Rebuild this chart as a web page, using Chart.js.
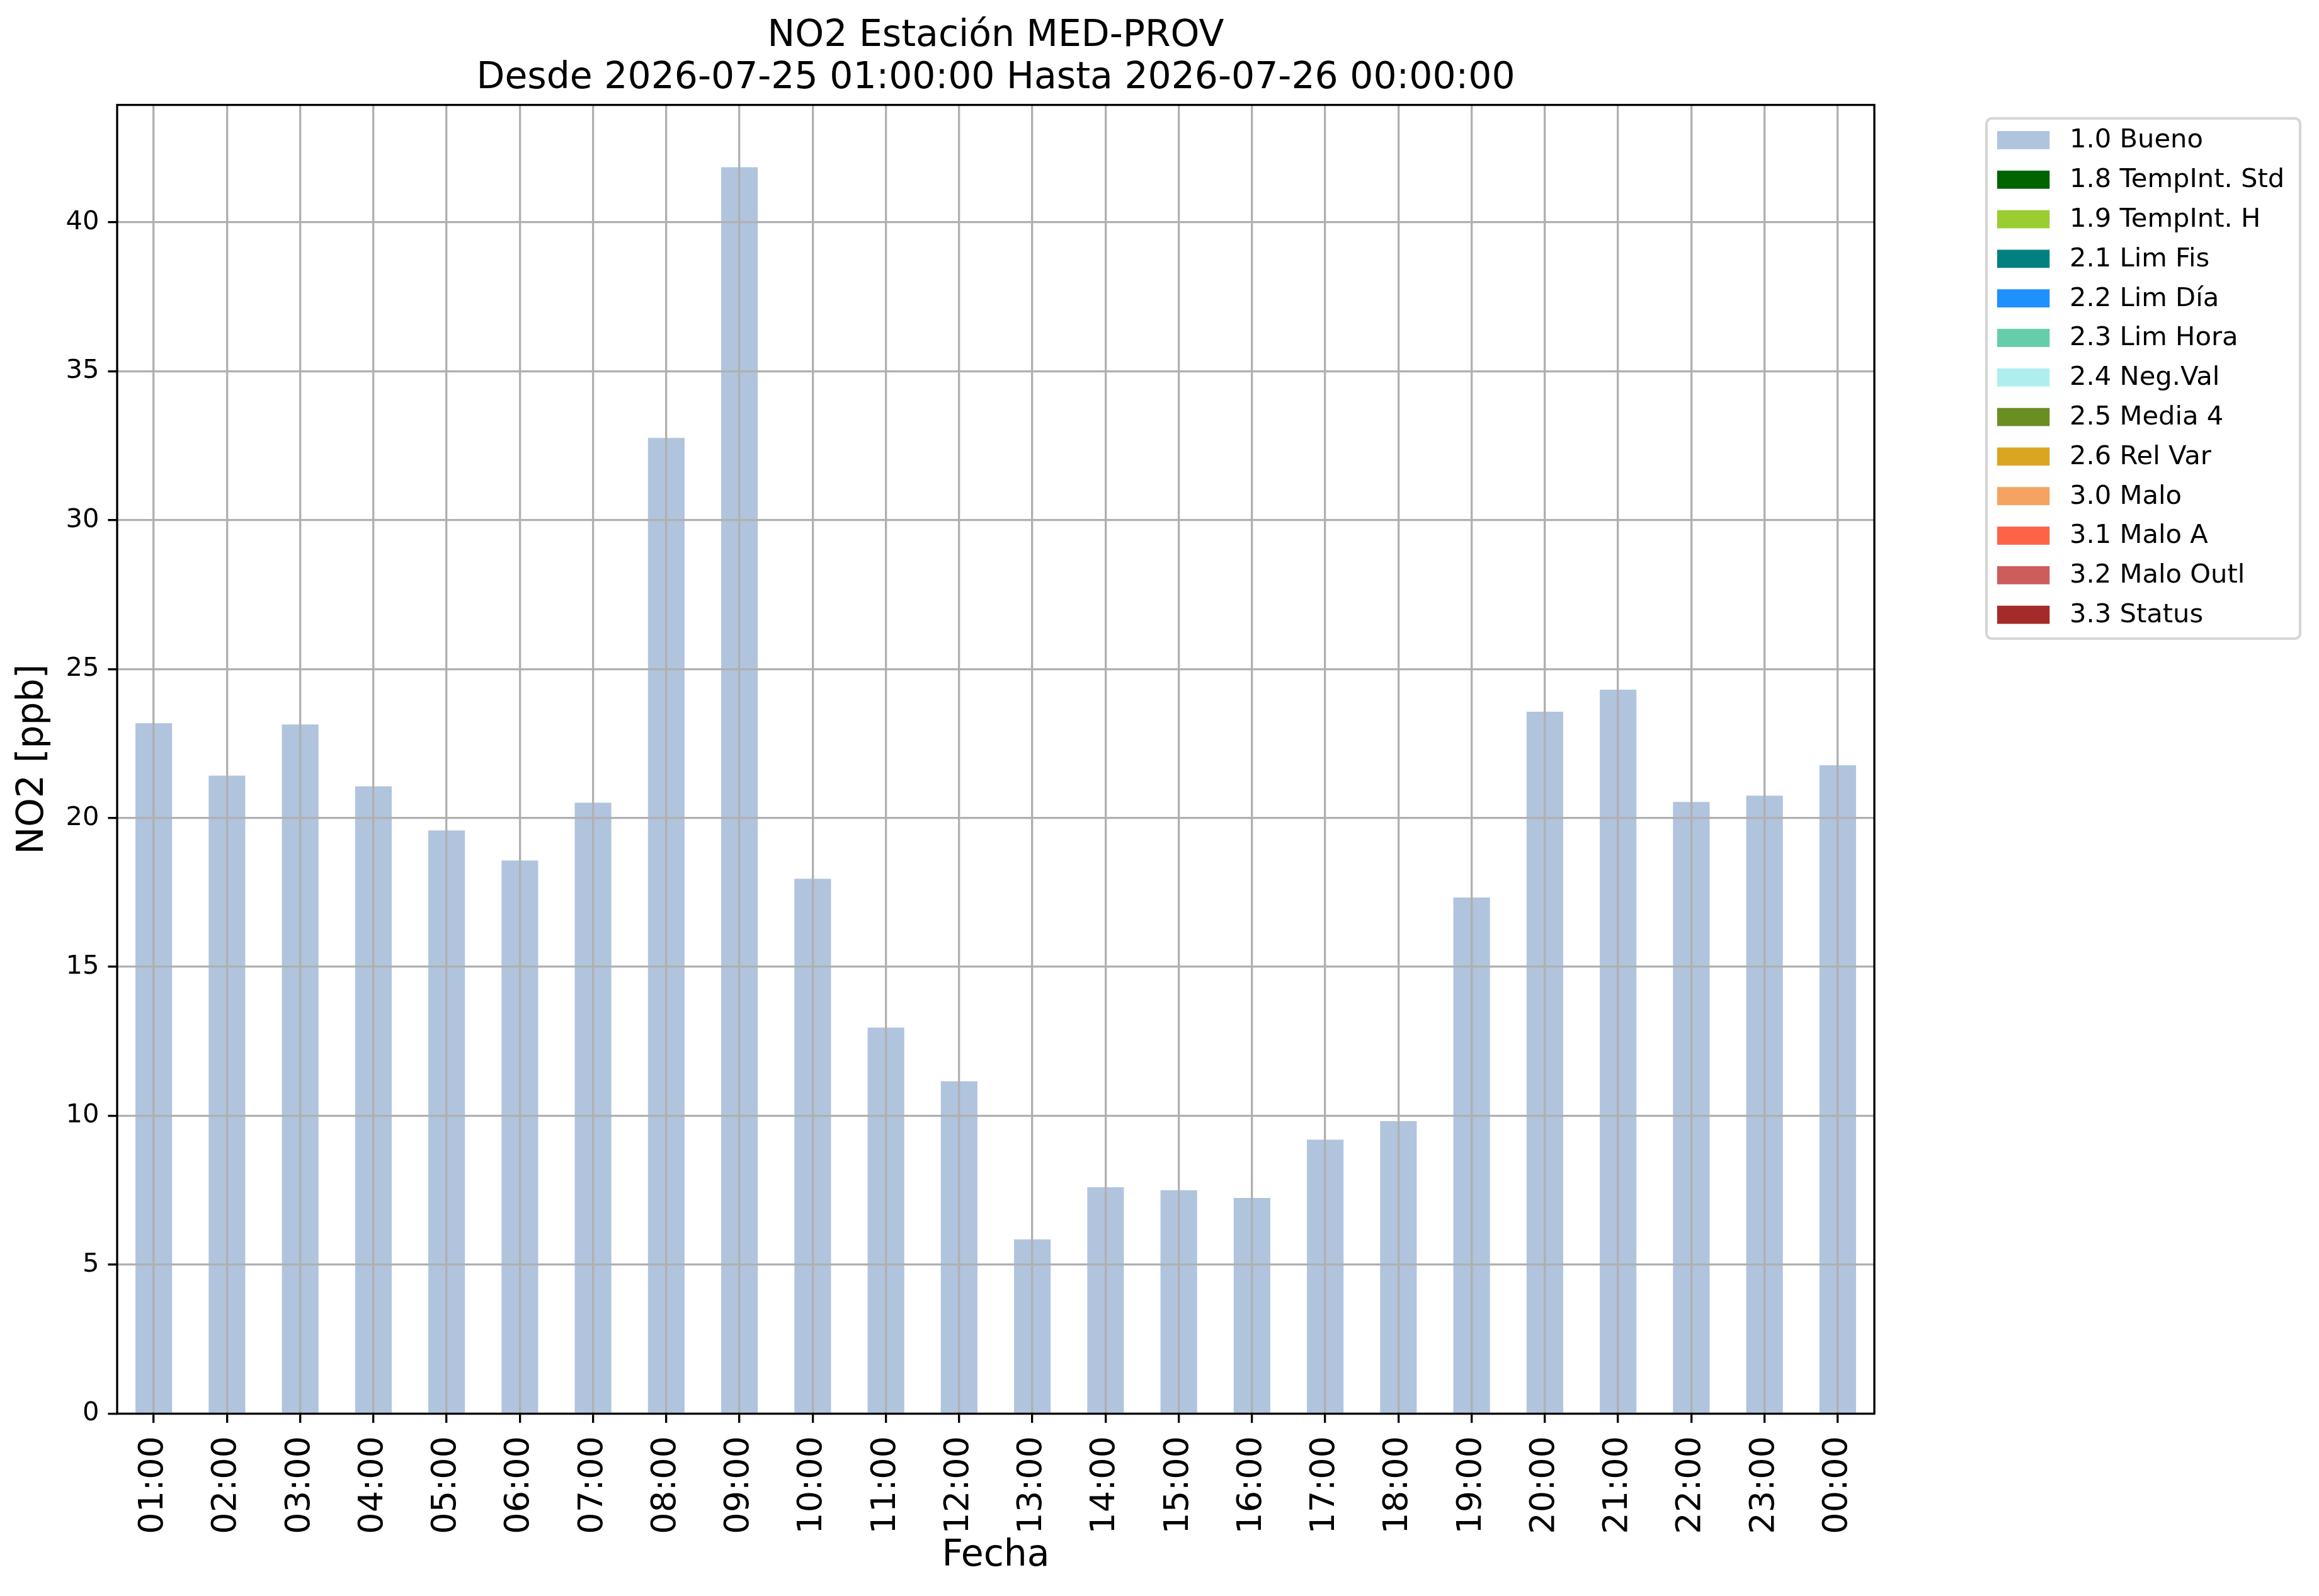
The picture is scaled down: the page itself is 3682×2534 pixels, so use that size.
<!DOCTYPE html>
<html>
<head>
<meta charset="utf-8">
<script src="https://cdn.jsdelivr.net/npm/chart.js@4.4.1/dist/chart.umd.min.js"></script>
<style>
html, body { margin: 0; padding: 0; background: #ffffff; }
canvas { display: block; }
</style>
</head>
<body>
<canvas id="chart" width="3682" height="2534" style="width:3682px;height:2534px"></canvas>
<script>
// ---- data ----
const titleLines = ['NO2 Estación MED-PROV', 'Desde 2026-07-25 01:00:00 Hasta 2026-07-26 00:00:00'];
const xAxisLabel = 'Fecha';
const yAxisLabel = 'NO2 [ppb]';
const hours = ['01:00', '02:00', '03:00', '04:00', '05:00', '06:00', '07:00', '08:00', '09:00', '10:00', '11:00', '12:00',
               '13:00', '14:00', '15:00', '16:00', '17:00', '18:00', '19:00', '20:00', '21:00', '22:00', '23:00', '00:00'];
const buenoValues = [23.18, 21.42, 23.14, 21.06, 19.58, 18.57, 20.51, 32.76, 41.85, 17.96, 12.96, 11.16,
                     5.85, 7.60, 7.50, 7.24, 9.20, 9.82, 17.33, 23.57, 24.31, 20.54, 20.75, 21.77];
const flagLabels = ['1.0 Bueno', '1.8 TempInt. Std', '1.9 TempInt. H', '2.1 Lim Fis', '2.2 Lim Día', '2.3 Lim Hora',
                    '2.4 Neg.Val', '2.5 Media 4', '2.6 Rel Var', '3.0 Malo', '3.1 Malo A', '3.2 Malo Outl', '3.3 Status'];
const flagColors = ['#b0c4de', '#006400', '#9acd32', '#008080', '#1e90ff', '#66cdaa',
                    '#afeeee', '#6b8e23', '#daa520', '#f4a460', '#ff6347', '#cd5c5c', '#a52a2a'];
const flagValues = [buenoValues, [], [], [], [], [], [], [], [], [], [], [], []];
const yTickValues = [0, 5, 10, 15, 20, 25, 30, 35, 40];
const yMin = 0;
const yMax = 43.94;

// ---- styling ----
const FONT = 'DejaVu Sans';
const LW = 3.33;

const datasets = flagLabels.map((lab, i) => ({
  label: lab,
  data: flagValues[i],
  backgroundColor: flagColors[i],
  borderWidth: 0,
  barPercentage: 0.5,
  categoryPercentage: 1.0,
  grouped: false
}));

const framePlugin = {
  id: 'frame',
  afterDraw(chart) {
    const {ctx, chartArea: a} = chart;
    ctx.save();
    ctx.strokeStyle = '#000000';
    ctx.lineWidth = LW;
    ctx.strokeRect(a.left, a.top, a.right - a.left, a.bottom - a.top);
    ctx.restore();
  }
};

const legendPlugin = {
  id: 'mplLegend',
  afterDraw(chart) {
    const {ctx} = chart;
    const ds = chart.data.datasets;
    const fs = 41.67;
    const bx = 3154, by = 188, bw = 498, bh = 826, r = 8.3;
    ctx.save();
    ctx.beginPath();
    ctx.moveTo(bx + r, by);
    ctx.lineTo(bx + bw - r, by);
    ctx.arcTo(bx + bw, by, bx + bw, by + r, r);
    ctx.lineTo(bx + bw, by + bh - r);
    ctx.arcTo(bx + bw, by + bh, bx + bw - r, by + bh, r);
    ctx.lineTo(bx + r, by + bh);
    ctx.arcTo(bx, by + bh, bx, by + bh - r, r);
    ctx.lineTo(bx, by + r);
    ctx.arcTo(bx, by, bx + r, by, r);
    ctx.closePath();
    ctx.fillStyle = 'rgba(255,255,255,0.8)';
    ctx.fill();
    ctx.strokeStyle = 'rgba(204,204,204,0.8)';
    ctx.lineWidth = 4.17;
    ctx.stroke();
    ctx.font = fs + 'px "' + FONT + '"';
    ctx.textAlign = 'left';
    ctx.textBaseline = 'middle';
    const rowH = 62.8;
    const y0 = 222.5;
    ds.forEach((d, i) => {
      const cy = y0 + i * rowH;
      ctx.fillStyle = d.backgroundColor;
      ctx.fillRect(3171, cy - 14.4, 83.3, 28.8);
      ctx.fillStyle = '#000000';
      ctx.fillText(d.label, 3286, cy + 1);
    });
    ctx.restore();
  }
};

new Chart(document.getElementById('chart'), {
  type: 'bar',
  data: { labels: hours, datasets: datasets },
  options: {
    responsive: false,
    animation: false,
    devicePixelRatio: 1,
    layout: { padding: { left: 0, top: 0, right: 706, bottom: 0 } },
    plugins: {
      legend: { display: false },
      tooltip: { enabled: false },
      title: {
        display: true,
        fullSize: false,
        text: titleLines,
        color: '#000000',
        font: { family: FONT, size: 58.4, weight: 'normal', lineHeight: 1.16 },
        padding: { top: 23.5, bottom: 7.6 }
      }
    },
    scales: {
      x: {
        type: 'category',
        offset: true,
        afterFit(scale) { scale.height = 289.5; },
        grid: {
          offset: false,
          color: '#b0b0b0',
          lineWidth: LW,
          drawTicks: true,
          tickLength: 14.6,
          tickColor: '#000000',
          tickWidth: LW,
          z: 1
        },
        border: { display: false },
        ticks: {
          autoSkip: false,
          minRotation: 90,
          maxRotation: 90,
          padding: 21,
          color: '#000000',
          font: { family: FONT, size: 54 }
        },
        title: {
          display: true,
          text: xAxisLabel,
          color: '#000000',
          font: { family: FONT, size: 58.4 },
          padding: { top: 0, bottom: 28 }
        }
      },
      y: {
        type: 'linear',
        min: yMin,
        max: yMax,
        afterFit(scale) { scale.width = 186; },
        afterBuildTicks(scale) { scale.ticks = yTickValues.map(v => ({ value: v })); },
        grid: {
          color: '#b0b0b0',
          lineWidth: LW,
          drawTicks: true,
          tickLength: 14.6,
          tickColor: '#000000',
          tickWidth: LW,
          z: 1
        },
        border: { display: false },
        ticks: {
          stepSize: 5,
          includeBounds: false,
          padding: 14,
          color: '#000000',
          font: { family: FONT, size: 41.67 },
          callback: (v) => String(v)
        },
        title: {
          display: true,
          text: yAxisLabel,
          color: '#000000',
          font: { family: FONT, size: 58.4 },
          padding: { top: 18, bottom: 0 }
        }
      }
    }
  },
  plugins: [framePlugin, legendPlugin]
});
</script>
</body>
</html>
